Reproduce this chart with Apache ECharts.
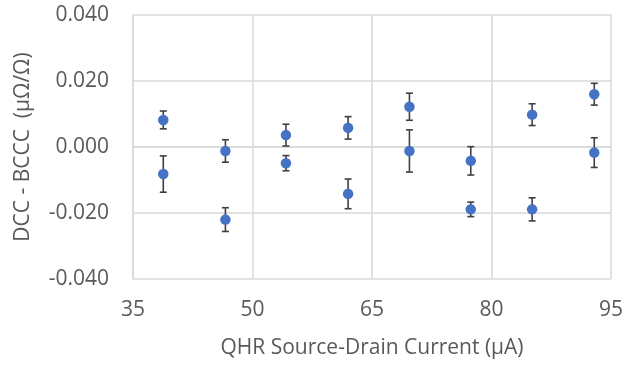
<!DOCTYPE html>
<html>
<head>
<meta charset="utf-8">
<script src="https://cdn.jsdelivr.net/npm/echarts@6/dist/echarts.min.js"></script>
<style>
  html, body { margin: 0; padding: 0; background: #fff; }
  #chart { width: 626px; height: 366px; }
</style>
</head>
<body>
<div id="chart"></div>
<script>
// source-drain currents (µA)
const currents = [38.8, 46.6, 54.2, 62.0, 69.7, 77.4, 85.1, 92.9];
// upper set of points and their error
const upperVals = [0.0082, -0.0012, 0.0036, 0.0058, 0.0122, -0.0042, 0.0098, 0.0160];
const upperErr = [0.0027, 0.0034, 0.0033, 0.0034, 0.0041, 0.0043, 0.0033, 0.0033];
// lower set of points and their error
const lowerVals = [-0.0082, -0.0220, -0.0049, -0.0142, -0.0012, -0.0189, -0.0189, -0.0017];
const lowerErr = [0.0055, 0.0036, 0.0023, 0.0045, 0.0064, 0.0022, 0.0035, 0.0045];

const points = [];
currents.forEach((x, i) => {
  points.push([x, upperVals[i], upperErr[i]]);
  points.push([x, lowerVals[i], lowerErr[i]]);
});

const textColor = "#595959";
const fontFamily = "Open Sans";

const chart = echarts.init(document.getElementById("chart"));

const option = {
  animation: false,
  grid: { left: 133, top: 15, right: 15, bottom: 87 },
  xAxis: {
    type: "value",
    min: 35,
    max: 95,
    interval: 15,
    name: "QHR Source-Drain Current (μA)",
    nameLocation: "middle",
    nameGap: 59,
    nameTextStyle: { color: textColor, fontSize: 21, fontFamily },
    axisLine: { show: true, lineStyle: { color: "#d9d9d9", width: 1.5 } },
    axisTick: { show: false },
    axisLabel: { color: textColor, fontSize: 21, fontFamily, margin: 21 },
    splitLine: { show: true, lineStyle: { color: "#d9d9d9", width: 1.5 } },
  },
  yAxis: {
    type: "value",
    min: -0.04,
    max: 0.04,
    interval: 0.02,
    name: "DCC - BCCC  (µΩ/Ω)",
    nameLocation: "middle",
    nameRotate: 90,
    nameGap: 99,
    nameTextStyle: { color: textColor, fontSize: 21, fontFamily },
    axisLine: { show: true, lineStyle: { color: "#d9d9d9", width: 1.5 } },
    axisTick: { show: false },
    axisLabel: {
      color: textColor,
      fontSize: 21,
      fontFamily,
      margin: 24,
      formatter: (v) => v.toFixed(3),
    },
    splitLine: { show: true, lineStyle: { color: "#d9d9d9", width: 1.5 } },
  },
  series: [
    {
      // error bars
      type: "custom",
      data: points,
      z: 2,
      renderItem: (params, api) => {
        const x = api.value(0);
        const y = api.value(1);
        const e = api.value(2);
        const top = api.coord([x, y + e]);
        const bot = api.coord([x, y - e]);
        const cap = 3.5;
        const style = { stroke: "#404040", lineWidth: 1.6 };
        return {
          type: "group",
          children: [
            { type: "line", shape: { x1: top[0], y1: top[1], x2: bot[0], y2: bot[1] }, style },
            { type: "line", shape: { x1: top[0] - cap, y1: top[1], x2: top[0] + cap, y2: top[1] }, style },
            { type: "line", shape: { x1: bot[0] - cap, y1: bot[1], x2: bot[0] + cap, y2: bot[1] }, style },
          ],
        };
      },
    },
    {
      type: "scatter",
      data: points.map((p) => [p[0], p[1]]),
      symbolSize: 10.5,
      z: 3,
      itemStyle: { color: "#4472c4", opacity: 1 },
    },
  ],
};

chart.setOption(option);
</script>
</body>
</html>
